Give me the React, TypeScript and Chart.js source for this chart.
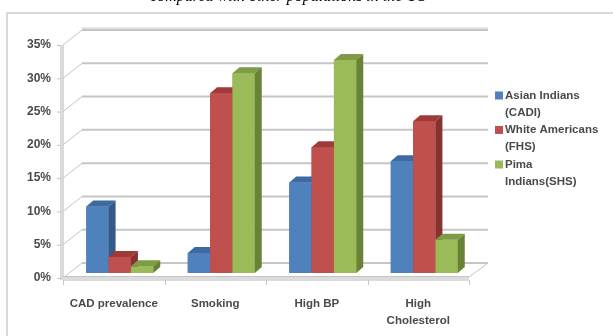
import React, { useEffect, useRef } from "react";
import { Chart, registerables } from "chart.js";
Chart.register(...registerables);

const categories: (string | string[])[] = ["CAD prevalence", "Smoking", "High BP", ["High", "Cholesterol"]];
const seriesLabels: string[][] = [["Asian Indians", "(CADI)"], ["White Americans", "(FHS)"], ["Pima", "Indians(SHS)"]];
const asianIndians = [10, 3, 13.6, 16.8];
const whiteAmericans = [2.4, 27, 18.9, 22.8];
const pimaIndians = [1, 30, 32, 5];
const yMin = 0;
const yMax = 35;
const yStep = 5;
const titleText = "compared with other populations in the US";

const FRONT = ["#4F81BD", "#C0504D", "#9BBB59"];
const TOP = ["#3D6AA2", "#9E3B38", "#7E9C45"];
const SIDE = ["#34598A", "#86322F", "#688236"];

const BAR_DX = 6, BAR_DY = -5;
const DEP_DX = 7, DEP_DY = -6;
const BACK_DX = 19, BACK_DY = -15;

const TEXT_COLOR = "#4a4a4a";

const wallPlugin = {
  id: "wall3d",
  beforeDraw(chart: any) {
    const ctx = chart.ctx;
    ctx.save();
    ctx.fillStyle = "#ffffff";
    ctx.fillRect(0, 0, chart.width, chart.height);
    ctx.strokeStyle = "#d9d9d9";
    ctx.lineWidth = 2;
    ctx.beginPath();
    ctx.moveTo(7, chart.height);
    ctx.lineTo(7, 13);
    ctx.lineTo(chart.width, 13);
    ctx.stroke();
    ctx.font = "italic 16px 'Liberation Serif'";
    ctx.fillStyle = "#000";
    ctx.textAlign = "center";
    ctx.textBaseline = "alphabetic";
    ctx.fillText(titleText, 288, 1);
    ctx.restore();
  },
  beforeDatasetsDraw(chart: any) {
    const ctx = chart.ctx;
    const { left, right, top, bottom } = chart.chartArea;
    const ys = chart.scales.y;
    ctx.save();
    ctx.fillStyle = "#dadada";
    ctx.fillRect(left - 3, top, 4, bottom - top + 2);
    ys.ticks.forEach((t: any) => {
      const py = ys.getPixelForValue(t.value);
      ctx.strokeStyle = "#c4c4c4";
      ctx.lineWidth = 1;
      ctx.beginPath();
      ctx.moveTo(left - 6, py + 0.5);
      ctx.lineTo(left - 2, py + 0.5);
      ctx.moveTo(left, py);
      ctx.lineTo(left + BACK_DX, py + BACK_DY);
      ctx.stroke();
      ctx.lineWidth = 2;
      ctx.strokeStyle = "#c6c6c6";
      ctx.beginPath();
      ctx.moveTo(left + BACK_DX, py + BACK_DY);
      ctx.lineTo(right + BACK_DX, py + BACK_DY);
      ctx.stroke();
    });
    const topY = ys.getPixelForValue(yMax) + BACK_DY;
    ctx.strokeStyle = "#e4e4e4";
    ctx.lineWidth = 2;
    ctx.beginPath();
    ctx.moveTo(left + BACK_DX, topY - 2);
    ctx.lineTo(right + BACK_DX, topY - 2);
    ctx.stroke();
    ctx.fillStyle = "#dcdcdc";
    ctx.fillRect(left, bottom - 1, right - left, 4);
    ctx.strokeStyle = "#c4c4c4";
    ctx.lineWidth = 1;
    ctx.beginPath();
    ctx.moveTo(left, bottom - 1.5);
    ctx.lineTo(right, bottom - 1.5);
    ctx.moveTo(right, bottom - 1);
    ctx.lineTo(right + BACK_DX, bottom + BACK_DY);
    ctx.stroke();
    const n = categories.length;
    const w = (right - left) / n;
    for (let i = 0; i <= n; i++) {
      const px = Math.round(left + i * w) + 0.5;
      ctx.beginPath();
      ctx.moveTo(px, bottom + 2);
      ctx.lineTo(px, bottom + 7);
      ctx.stroke();
    }
    ctx.restore();
    ctx.save();
    ctx.translate(BAR_DX, BAR_DY);
  },
  afterDatasetsDraw(chart: any) {
    const ctx = chart.ctx;
    ctx.restore();
    ctx.save();
    const nCat = categories.length;
    for (let i = 0; i < nCat; i++) {
      for (let d = 0; d < chart.data.datasets.length; d++) {
        const el = chart.getDatasetMeta(d).data[i];
        const { x, y, base, width } = el.getProps(["x", "y", "base", "width"], true);
        const xl = x - width / 2 + BAR_DX;
        const xr = x + width / 2 + BAR_DX;
        const yt = y + BAR_DY;
        const yb = base + BAR_DY;
        ctx.fillStyle = FRONT[d];
        ctx.fillRect(xl, yt, xr - xl, yb - yt);
        ctx.fillStyle = TOP[d];
        ctx.beginPath();
        ctx.moveTo(xl, yt);
        ctx.lineTo(xr, yt);
        ctx.lineTo(xr + DEP_DX, yt + DEP_DY);
        ctx.lineTo(xl + DEP_DX, yt + DEP_DY);
        ctx.closePath();
        ctx.fill();
        ctx.fillStyle = SIDE[d];
        ctx.beginPath();
        ctx.moveTo(xr, yt);
        ctx.lineTo(xr + DEP_DX, yt + DEP_DY);
        ctx.lineTo(xr + DEP_DX, yb + DEP_DY);
        ctx.lineTo(xr, yb);
        ctx.closePath();
        ctx.fill();
      }
    }
    ctx.restore();
  },
  afterDraw(chart: any) {
    const ctx = chart.ctx;
    ctx.save();
    ctx.font = "bold 11.5px 'Liberation Sans'";
    ctx.textBaseline = "middle";
    ctx.textAlign = "left";
    const lx = 495;
    const starts = [95.5, 130, 164.5];
    chart.data.datasets.forEach((ds: any, d: number) => {
      const cy = starts[d];
      ctx.fillStyle = ds.backgroundColor;
      ctx.fillRect(lx, cy - 4, 8, 8);
      ctx.fillStyle = TEXT_COLOR;
      seriesLabels[d].forEach((line, j) => {
        ctx.fillText(line, lx + 10, cy + j * 17);
      });
    });
    ctx.restore();
  },
};

export default function App() {
  const ref = useRef<HTMLCanvasElement>(null);
  useEffect(() => {
    if (!ref.current) return;
    const tickFont = { family: "'Liberation Sans'", size: 11.5, weight: "bold" as const, lineHeight: 1.5 };
    const chart = new Chart(ref.current, {
      type: "bar",
      data: {
        labels: categories as any,
        datasets: [
          { label: seriesLabels[0].join(" "), data: asianIndians, backgroundColor: FRONT[0] },
          { label: seriesLabels[1].join(" "), data: whiteAmericans, backgroundColor: FRONT[1] },
          { label: seriesLabels[2].join(" "), data: pimaIndians, backgroundColor: FRONT[2] },
        ],
      },
      options: {
        responsive: false,
        maintainAspectRatio: false,
        animation: false,
        layout: { padding: { left: 0, top: 45, right: 144, bottom: 0 } },
        datasets: { bar: { categoryPercentage: 0.66, barPercentage: 1 } } as any,
        plugins: { legend: { display: false }, tooltip: { enabled: false }, title: { display: false } },
        scales: {
          x: {
            grid: { display: false, drawTicks: false },
            border: { display: false },
            ticks: { maxRotation: 0, autoSkip: false, padding: 17, color: TEXT_COLOR, font: tickFont },
            afterFit: (s: any) => { s.height = 58; },
          },
          y: {
            min: yMin,
            max: yMax,
            grid: { display: false, drawTicks: false },
            border: { display: false },
            ticks: {
              stepSize: yStep,
              padding: 12,
              color: TEXT_COLOR,
              font: { family: "'Liberation Sans'", size: 12, weight: "bold" as const },
              callback: (v: any) => v + "%",
            },
            afterFit: (s: any) => { s.width = 63; },
          },
        },
      },
      plugins: [wallPlugin],
    });
    return () => chart.destroy();
  }, []);
  return (
    <div style={{ position: "fixed", left: 0, top: 0, width: 613, height: 336 }}>
      <canvas ref={ref} width={613} height={336} style={{ display: "block" }} />
    </div>
  );
}
